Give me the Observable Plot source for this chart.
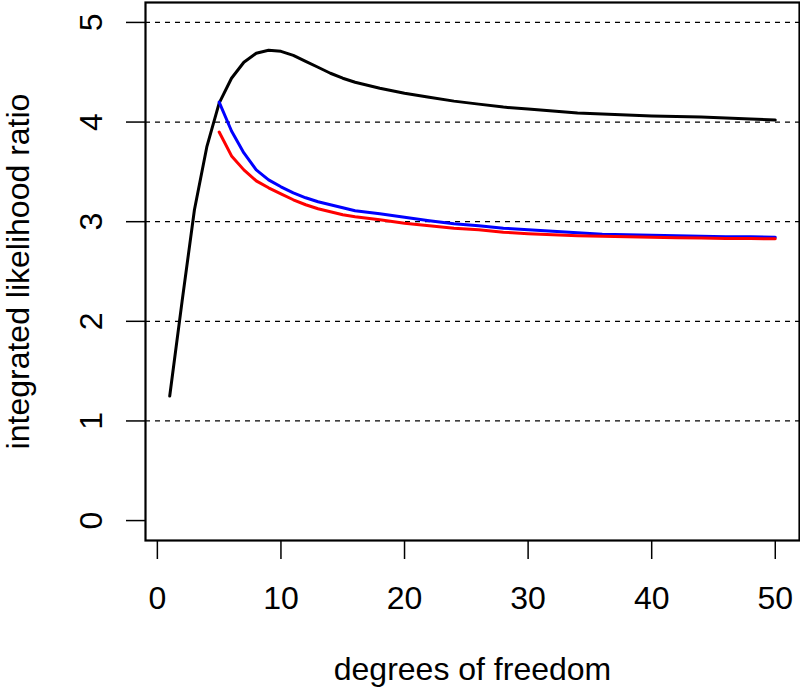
<!DOCTYPE html>
<html>
<head>
<meta charset="utf-8">
<script src="https://cdn.jsdelivr.net/npm/d3@7"></script>
<script src="https://cdn.jsdelivr.net/npm/@observablehq/plot@0.6"></script>
<style>
  html, body { margin: 0; padding: 0; background: #fff; }
</style>
</head>
<body>
<div id="chart"></div>
<script>
// degrees of freedom sampled for the black curve
const dfBlack = [1,2,3,4,5,6,7,8,9,10,11,12,13,14,15,16,18,20,22,24,26,28,30,32,34,36,38,40,42,44,46,48,50];
const ilrBlack = [1.25,2.2,3.12,3.75,4.19,4.44,4.60,4.69,4.72,4.71,4.67,4.61,4.55,4.49,4.44,4.40,4.34,4.29,4.25,4.21,4.18,4.15,4.13,4.11,4.09,4.08,4.07,4.06,4.055,4.05,4.04,4.03,4.02];

// degrees of freedom sampled for the blue and red curves
const dfColored = [5,6,7,8,9,10,11,12,13,14,15,16,18,20,22,24,26,28,30,32,34,36,38,40,42,44,46,48,50];
const ilrBlue = [4.20,3.91,3.69,3.52,3.42,3.35,3.29,3.24,3.20,3.17,3.14,3.11,3.08,3.045,3.01,2.98,2.96,2.935,2.92,2.905,2.89,2.875,2.87,2.865,2.86,2.855,2.85,2.848,2.845];
const ilrRed = [3.90,3.66,3.52,3.41,3.34,3.28,3.22,3.17,3.13,3.10,3.07,3.05,3.02,2.985,2.96,2.935,2.92,2.895,2.88,2.87,2.86,2.855,2.85,2.845,2.84,2.835,2.832,2.83,2.828];

const gridLevels = [1,2,3,4,5];
const xTicks = [0,10,20,30,40,50];
const yTicks = [0,1,2,3,4,5];
const xTitle = "degrees of freedom";
const yTitle = "integrated likelihood ratio";

const blackData = dfBlack.map((d, i) => ({df: d, v: ilrBlack[i]}));
const blueData = dfColored.map((d, i) => ({df: d, v: ilrBlue[i]}));
const redData = dfColored.map((d, i) => ({df: d, v: ilrRed[i]}));

const chart = Plot.plot({
  width: 800,
  height: 692,
  marginLeft: 145,
  marginRight: 1,
  marginTop: 2,
  marginBottom: 152,
  style: {
    fontFamily: "'Liberation Sans', Arial, Helvetica, sans-serif",
    fontSize: "32px",
    background: "#fff",
    color: "#000"
  },
  x: {domain: [-0.96, 51.96]},
  y: {domain: [-0.2, 5.2]},
  marks: [
    Plot.ruleY(gridLevels, {stroke: "#000", strokeWidth: 1.2, strokeDasharray: "5,5"}),
    Plot.line(blackData, {x: "df", y: "v", stroke: "#000", strokeWidth: 3}),
    Plot.line(blueData, {x: "df", y: "v", stroke: "#0000ff", strokeWidth: 3}),
    Plot.line(redData, {x: "df", y: "v", stroke: "#ff0000", strokeWidth: 3}),
    Plot.frame({stroke: "#000", strokeWidth: 2.2}),
    Plot.axisX(xTicks, {tickSize: 19, tickPadding: 27, strokeWidth: 1.5, fontSize: 32, label: null, tickFormat: d3.format("d")}),
    Plot.axisY(yTicks, {tickSize: 19, tickPadding: 25, tickRotate: -90, strokeWidth: 1.5, fontSize: 32, label: null, tickFormat: d3.format("d")}),
    Plot.text([xTitle], {text: d => d, frameAnchor: "bottom", dy: 139, lineAnchor: "bottom", textAnchor: "middle", fontSize: 32}),
    Plot.text([yTitle], {text: d => d, frameAnchor: "left", dx: -117, rotate: -90, lineAnchor: "bottom", textAnchor: "middle", fontSize: 32})
  ]
});
document.getElementById("chart").appendChild(chart);
</script>
</body>
</html>
